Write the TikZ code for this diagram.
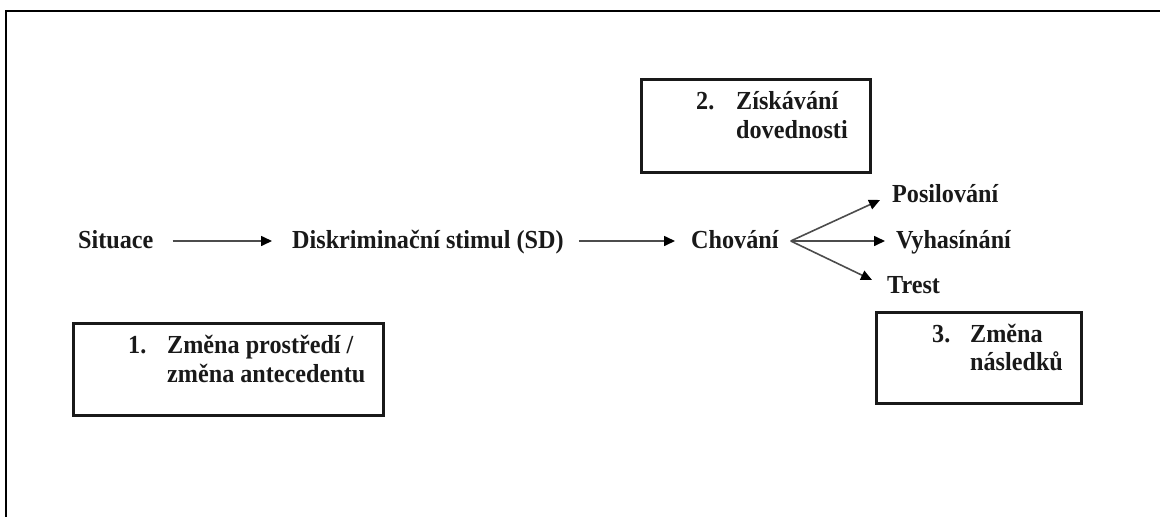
\documentclass[tikz,border=0pt]{standalone}
\usepackage{fontspec}
\setmainfont{Liberation Serif}[FakeStretch=0.93]
\usetikzlibrary{arrows.meta}
\begin{document}
\begin{tikzpicture}[x=1pt,y=-1pt,
  txt/.style={font=\fontsize{26}{29}\selectfont\bfseries, text=black!90, inner sep=0pt, anchor=base west},
  box/.style={draw=black!90, line width=3pt, inner sep=0pt, anchor=north west},
  arr/.style={draw=black!70, line width=1.6pt, -{Triangle[length=11pt,width=10pt,fill=black,color=black]}}]
\useasboundingbox (0,0) rectangle (1160,517);
\fill[white] (0,0) rectangle (1160,517);
\coordinate (fbl) at (6,530);
\coordinate (ftl) at (6,11);
\coordinate (ftr) at (1170,11);
\draw[line width=2.6pt] (fbl) -- (ftl) -- (ftr);
% boxes
\node[box, minimum width=310pt, minimum height=92pt] (b1) at (72,322) {};
\node[box, minimum width=229pt, minimum height=93pt] (b2) at (640,78) {};
\node[box, minimum width=205pt, minimum height=91pt] (b3) at (875,311) {};
% main row
\node[txt] (sit) at (78,248) {Situace};
\node[txt] (disk) at (292,248) {Diskriminační stimul (SD)};
\node[txt] (chov) at (691,248) {Chování};
\node[txt] (pos) at (892,202) {Posilování};
\node[txt] (vyh) at (896,248) {Vyhasínání};
\node[txt] (tre) at (887,293) {Trest};
\draw[arr] ([shift={(19,-7)}]sit.base east) -- ([shift={(-20,-7)}]disk.base west);
\draw[arr] ([shift={(15,-7)}]disk.base east) -- ([shift={(-16,-7)}]chov.base west);
\coordinate (br) at ([shift={(12,-7)}]chov.base east);
\draw[arr] (br) -- ([shift={(-12,-2)}]pos.base west);
\draw[arr] (br) -- ([shift={(-11,-7)}]vyh.base west);
\draw[arr] (br) -- ([shift={(-15,-13)}]tre.base west);
% box texts
\node[txt] (n1) at (128,353) {1.};
\node[txt] (t1a) at (167,353) {Změna prostředí /};
\node[txt] (t1b) at (167,382) {změna antecedentu};
\node[txt] (n2) at (696,109) {2.};
\node[txt] (t2a) at (736,109) {Získávání};
\node[txt] (t2b) at (736,138) {dovednosti};
\node[txt] (n3) at (932,342) {3.};
\node[txt] (t3a) at (970,342) {Změna};
\node[txt] (t3b) at (970,370) {následků};
\end{tikzpicture}
\end{document}
